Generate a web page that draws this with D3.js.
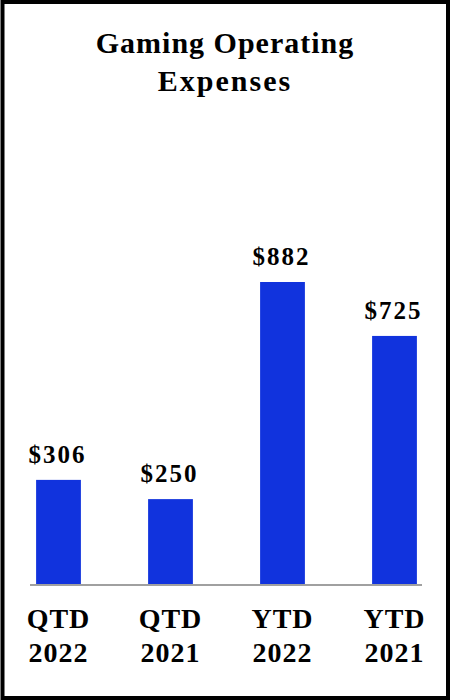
<!DOCTYPE html>
<html>
<head>
<meta charset="utf-8">
<script src="https://cdn.jsdelivr.net/npm/d3@7"></script>
<style>
  html, body { margin: 0; padding: 0; background: #fff; }
  svg { display: block; }
  text { font-family: "Liberation Serif", "Times New Roman", serif; font-weight: bold; fill: #000; }
</style>
</head>
<body>
<div id="chart"></div>
<script>
// chart data
const categories = ['QTD 2022', 'QTD 2021', 'YTD 2022', 'YTD 2021'];
const values = [306, 250, 882, 725];
const titleLines = ['Gaming Operating', 'Expenses'];

const width = 452;
const height = 700;
const baseY = 585;

const svg = d3.select('#chart').append('svg')
    .attr('width', width)
    .attr('height', height);

// frame
svg.append('rect')
    .attr('x', 2.5)
    .attr('y', 2)
    .attr('width', 445.5)
    .attr('height', 696)
    .attr('fill', '#fff')
    .attr('stroke', '#000')
    .attr('stroke-width', 4);

const x = d3.scaleBand()
    .domain(categories)
    .range([2.5, 450.5])
    .paddingInner(0.6)
    .paddingOuter(0.3);

const y = d3.scaleLinear()
    .domain([0, 882])
    .range([baseY, 282]);

// title
svg.append('g')
    .selectAll('text')
    .data(titleLines)
    .join('text')
    .attr('x', width / 2 - 1)
    .attr('y', (d, i) => 53 + i * 38)
    .attr('text-anchor', 'middle')
    .attr('font-size', 30)
    .attr('letter-spacing', (d, i) => i === 0 ? 1 : 2)
    .text(d => d);

// bars
svg.append('g')
    .selectAll('rect')
    .data(values)
    .join('rect')
    .attr('x', (d, i) => x(categories[i]))
    .attr('y', d => y(d))
    .attr('width', x.bandwidth())
    .attr('height', d => baseY - y(d))
    .attr('fill', '#1133dd');

// baseline
svg.append('line')
    .attr('x1', 30)
    .attr('x2', 422)
    .attr('y1', baseY)
    .attr('y2', baseY)
    .attr('stroke', '#a0a0a0')
    .attr('stroke-width', 2);

// value labels
svg.append('g')
    .selectAll('text')
    .data(values)
    .join('text')
    .attr('x', (d, i) => x(categories[i]) + x.bandwidth() / 2 - 1)
    .attr('y', d => y(d) - 17)
    .attr('text-anchor', 'middle')
    .attr('font-size', 25)
    .attr('letter-spacing', 2)
    .text(d => '$' + d);

// category labels, two lines each
const cat = svg.append('g')
    .selectAll('text')
    .data(categories)
    .join('text')
    .attr('text-anchor', 'middle')
    .attr('font-size', 28)
    .attr('letter-spacing', 1);

cat.selectAll('tspan')
    .data((d, i) => d.split(' ').map(s => ({ s, cx: x(categories[i]) + x.bandwidth() / 2 })))
    .join('tspan')
    .attr('x', d => d.cx)
    .attr('y', (d, j) => 628 + j * 34)
    .text(d => d.s);
</script>
</body>
</html>
